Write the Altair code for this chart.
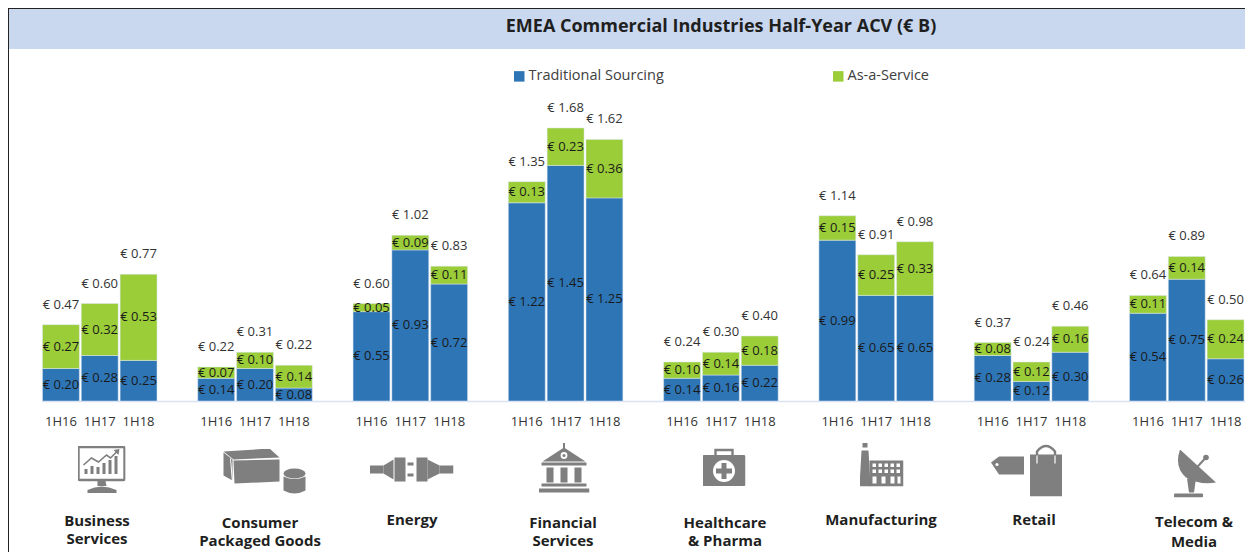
import base64
import altair as alt
import pandas as pd

TITLE = "EMEA Commercial Industries Half-Year ACV (€ B)"
INDUSTRIES = ["Business Services", "Consumer Packaged Goods", "Energy", "Financial Services",
              "Healthcare & Pharma", "Manufacturing", "Retail", "Telecom & Media"]
PERIODS = ["1H16", "1H17", "1H18"]
SERIES = ["Traditional Sourcing", "As-a-Service"]
TRADITIONAL = [0.20, 0.28, 0.25, 0.14, 0.20, 0.08, 0.55, 0.93, 0.72, 1.22, 1.45, 1.25,
               0.14, 0.16, 0.22, 0.99, 0.65, 0.65, 0.28, 0.12, 0.30, 0.54, 0.75, 0.26]
SERVICE = [0.27, 0.32, 0.53, 0.07, 0.10, 0.14, 0.05, 0.09, 0.11, 0.13, 0.23, 0.36,
           0.10, 0.14, 0.18, 0.15, 0.25, 0.33, 0.08, 0.12, 0.16, 0.11, 0.14, 0.24]
TOTALS = [0.47, 0.60, 0.77, 0.22, 0.31, 0.22, 0.60, 1.02, 0.83, 1.35, 1.68, 1.62,
          0.24, 0.30, 0.40, 1.14, 0.91, 0.98, 0.37, 0.24, 0.46, 0.64, 0.89, 0.50]

LABEL_FONT = "Open Sans"
BLUE, GREEN = "#2E75B6", "#9ACD38"
GREY = "#7F7F7F"

# slot keys: one per bar, plus empty spacer slots between industries
keys = [f"{i}|{p}" for i in INDUSTRIES for p in PERIODS]
domain = []
for n, ind in enumerate(INDUSTRIES):
    domain += [f"{ind}|{p}" for p in PERIODS]
    if n < len(INDUSTRIES) - 1:
        domain.append(f"gap{n}|")

seg_rows, tot_rows = [], []
for k, t, s, tot in zip(keys, TRADITIONAL, SERVICE, TOTALS):
    seg_rows.append(dict(slot=k, series=SERIES[0], idx=0, value=t, mid=t / 2, label=f"€ {t:.2f}"))
    seg_rows.append(dict(slot=k, series=SERIES[1], idx=1, value=s, mid=t + s / 2, label=f"€ {s:.2f}"))
    tot_rows.append(dict(slot=k, top=t + s, label=f"€ {tot:.2f}"))
seg = pd.DataFrame(seg_rows)
tot = pd.DataFrame(tot_rows)

# The svg can only be 1237 wide (window minus page margins); the plot fills what remains.
TOTAL_W, TOTAL_H = 1237, 544
LEFT, TOP = 33.5, 52
PW, PH = TOTAL_W - LEFT, 341
x = alt.X("slot:N", scale=alt.Scale(domain=domain, paddingInner=0.05, paddingOuter=0.025),
          axis=alt.Axis(title=None, ticks=False, labelAngle=0, labelPadding=14, labelFontSize=13,
                        labelFont=LABEL_FONT, labelColor="#333333", domainColor="#D9E2F3",
                        domainWidth=1.5, labelOverlap=False, labelFlush=False, grid=False,
                        labelExpr="split(datum.label,'|')[1]"))
yscale = alt.Scale(domain=[0, PH / 162.5], range=[PH, 0], nice=False)

bars = alt.Chart(seg).mark_bar(stroke="#DCE6F2", strokeWidth=0.5).encode(
    x=x,
    y=alt.Y("value:Q", stack="zero", scale=yscale, axis=None),
    order=alt.Order("idx:Q"),
    color=alt.Color("series:N", scale=alt.Scale(domain=SERIES, range=[BLUE, GREEN]),
                    legend=alt.Legend(title=None, orient="none", legendX=512 - 8 - LEFT, legendY=9,
                                      direction="horizontal", columns=2, symbolType="square",
                                      symbolSize=110, symbolStrokeWidth=0, labelFontSize=14.5,
                                      labelOffset=2, labelFont=LABEL_FONT, labelColor="#404040",
                                      columnPadding=167)),
)
seg_text = alt.Chart(seg).mark_text(font=LABEL_FONT, fontSize=13, color="#1A1A1A").encode(
    x=x, y=alt.Y("mid:Q", scale=yscale, axis=None), text="label:N")
tot_text = alt.Chart(tot).mark_text(font=LABEL_FONT, fontSize=13, color="#333333", dy=-20).encode(
    x=x, y=alt.Y("top:Q", scale=yscale, axis=None), text="label:N")

def px(v):
    return alt.value(v - 8 - LEFT)
def py(v):
    return alt.value(v - 8 - TOP)

band = alt.Chart().mark_rect(color="#C9D8EE").encode(x=px(8), x2=px(1245), y=py(9), y2=py(49))
top_rule = alt.Chart().mark_rule(color="#222222", strokeWidth=1).encode(x=px(8), x2=px(1245), y=py(8.5))
left_rule = alt.Chart().mark_rule(color="#222222", strokeWidth=1).encode(x=px(8.5), y=py(8), y2=py(552))

title = alt.Chart().mark_text(text=TITLE, font=LABEL_FONT, fontSize=18, fontWeight="bold",
                              color="#1F1F1F").encode(x=px(721), y=py(27))

# Industry names
NAMES = [("Business\nServices", 97, 521, 18), ("Consumer\nPackaged Goods", 260, 523, 18),
         ("Energy", 412, 520, 18), ("Financial\nServices", 563, 523, 18),
         ("Healthcare\n& Pharma", 725, 523, 18), ("Manufacturing", 881, 520, 18),
         ("Retail", 1034, 520, 18), ("Telecom &\nMedia", 1194, 522, 20)]
name_layers = [alt.Chart().mark_text(text=t, lineBreak="\n", font=LABEL_FONT, fontSize=15,
                                     fontWeight="bold", lineHeight=lh, color="#1F1F1F").encode(x=px(cx), y=py(cy))
               for t, cx, cy, lh in NAMES]

# Icons (vector pictograms)
G = GREY
def svg(w, h, body):
    s = f'<svg xmlns="http://www.w3.org/2000/svg" width="{w}" height="{h}" viewBox="0 0 {w} {h}">{body}</svg>'
    return "data:image/svg+xml;base64," + base64.b64encode(s.encode()).decode()

ICONS = [
    (101.5, 469.5, 48, 47, f'<rect x="1" y="1" width="46" height="33" rx="1" fill="#fff" stroke="{G}" stroke-width="2.4"/>'
     f'<rect x="7" y="23" width="3" height="5" fill="{G}"/><rect x="13" y="20" width="3" height="8" fill="{G}"/><rect x="19" y="21" width="3" height="7" fill="{G}"/>'
     f'<rect x="25" y="17" width="3" height="11" fill="{G}"/><rect x="31" y="14" width="3" height="14" fill="{G}"/><rect x="37" y="10" width="3" height="18" fill="{G}"/>'
     f'<path d="M6 19 L14 12 L21 16 L29 9 L33 12 L40 5" fill="none" stroke="{G}" stroke-width="1.6"/><path d="M36 4 L42 3 L41 9 Z" fill="{G}"/>'
     f'<path d="M20 35 H28 L29 40 H20 Z" fill="{G}"/><path d="M10 44 Q24 37 39 44 V47 H10 Z" fill="{G}"/>'),
    (264.5, 472.5, 84, 48, f'<path d="M1 4 L10 11 V32 L1 27 Z" fill="{G}"/><path d="M1 3 L47 0 L57 9 L11 11 Z" fill="{G}"/>'
     f'<path d="M11 12 L57 11 V33 L12 35 Z" fill="{G}"/><path d="M8 10 L10 34" stroke="#fff" stroke-width="1"/>'
     f'<ellipse cx="72" cy="25" rx="11" ry="5" fill="{G}"/><path d="M61 28 Q72 33 83 28 V42 Q72 48 61 42 Z" fill="{G}"/>'),
    (411.5, 469.5, 84, 26, f'<rect x="0" y="9" width="14" height="8" fill="{G}"/><path d="M14 9 L24 3 V23 L14 17 Z" fill="{G}"/>'
     f'<rect x="25" y="1" width="11" height="24" fill="{G}"/><rect x="38" y="6" width="6" height="3" fill="{G}"/><rect x="38" y="17" width="6" height="3" fill="{G}"/>'
     f'<rect x="47" y="1" width="11" height="24" fill="{G}"/><path d="M58 3 L70 9 V17 L58 23 Z" fill="{G}"/><rect x="70" y="9" width="14" height="8" fill="{G}"/>'),
    (564, 468, 51, 51, f'<rect x="24.5" y="0" width="2" height="6" fill="{G}"/><path d="M25.5 5 L47 19 H4 Z" fill="{G}"/><circle cx="25.5" cy="13" r="3.4" fill="#fff"/><circle cx="25.5" cy="13" r="1.5" fill="{G}"/>'
     f'<rect x="3" y="20" width="45" height="3" fill="{G}"/><rect x="8" y="25" width="7" height="15" fill="{G}"/><rect x="22" y="25" width="7" height="15" fill="{G}"/><rect x="36" y="25" width="7" height="15" fill="{G}"/>'
     f'<rect x="3" y="41" width="45" height="3" fill="{G}"/><rect x="0" y="46" width="51" height="4" fill="{G}"/>'),
    (724, 467, 43, 38, f'<path d="M13 8 V2 H30 V8" fill="none" stroke="{G}" stroke-width="2.4"/><rect x="0" y="7" width="43" height="31" rx="1.5" fill="{G}"/>'
     f'<circle cx="21.5" cy="23" r="11" fill="#fff"/><path d="M19 15 H24 V20.5 H29.5 V25.5 H24 V31 H19 V25.5 H13.5 V20.5 H19 Z" fill="{G}"/>'),
    (881.5, 464.5, 44, 44, f'<rect x="3" y="0" width="5" height="5" fill="{G}"/><path d="M2 8 H9 L11 44 H0 Z" fill="{G}"/>'
     f'<rect x="10" y="18" width="34" height="26" fill="{G}"/>'
     + "".join(f'<rect x="{13+6*i}" y="{21+6*j}" width="3.5" height="3.5" fill="#fff"/>' for i in range(5) for j in range(2))
     + f'<rect x="13" y="34" width="4" height="7" fill="#fff"/><rect x="22" y="34" width="4" height="7" fill="#fff"/><rect x="31" y="34" width="4" height="7" fill="#fff"/><rect x="38" y="34" width="3" height="7" fill="#fff"/>'),
    (1027, 470, 72, 53, f'<path d="M0 19 L8 13 H33 V31 H8 Z" fill="{G}"/><circle cx="6" cy="21" r="1.6" fill="#fff"/>'
     f'<rect x="39" y="11" width="32" height="42" fill="{G}"/><path d="M46 20 V8 Q55 -3 64 8 V20" fill="none" stroke="{G}" stroke-width="2.4"/>'
     f'<path d="M46 12 V20 M64 12 V20" stroke="#fff" stroke-width="1.2"/>'),
    (1195, 473.5, 42, 48, f'<path d="M6 0 Q0 18 12 28 Q26 36 42 33 Z" fill="{G}"/><path d="M20 21 L31 9" stroke="{G}" stroke-width="2"/><circle cx="32" cy="8" r="2.8" fill="{G}"/>'
     f'<path d="M13 29 H22 L20 43 H15 Z" fill="{G}"/><rect x="0" y="44" width="29" height="4" rx="1" fill="{G}"/>'),
]
icon_layers = [alt.Chart().mark_image(url=svg(w, h, b), width=w, height=h).encode(x=px(cx), y=py(cy))
               for cx, cy, w, h, b in ICONS]

chart = alt.layer(band, top_rule, left_rule, bars, seg_text, tot_text, title, *icon_layers, *name_layers).properties(
    width=PW, height=PH,
    autosize=alt.AutoSizeParams(type="none"),
    padding={"left": LEFT, "top": TOP, "right": 0, "bottom": TOTAL_H - TOP - PH},
).configure_view(stroke=None)

chart.save("out.html", embed_options={"renderer": "svg", "actions": False})
